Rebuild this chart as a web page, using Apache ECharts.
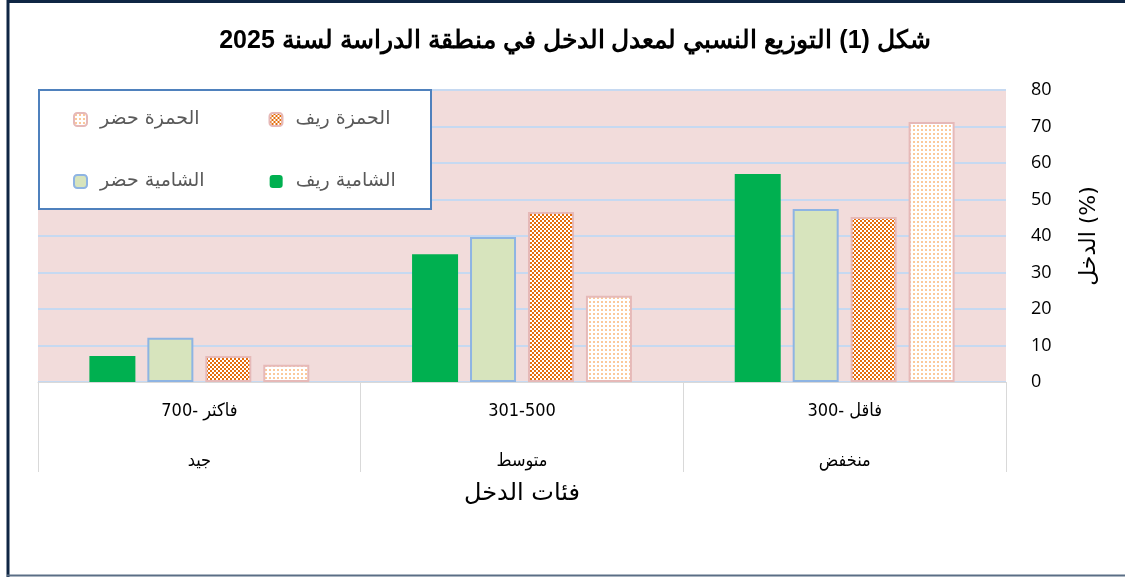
<!DOCTYPE html>
<html>
<head>
<meta charset="utf-8">
<script src="https://cdn.jsdelivr.net/npm/echarts@6/dist/echarts.min.js"></script>
<style>
  html, body { margin: 0; padding: 0; background: #fff; }
  #chart { width: 1125px; height: 577px; }
</style>
</head>
<body>
<div id="chart"></div>
<script>
const categories = ["منخفض", "متوسط", "جيد"];
const rangeNums = ["300-", "301-500", "700-"];
const rangeWords = ["فاقل", "", "فاكثر"];
const seriesNames = ["الشامية ريف", "الشامية حضر", "الحمزة ريف", "الحمزة حضر"];
const shamiyaRural = [57, 35, 7.1];
const shamiyaUrban = [47.4, 39.7, 12.1];
const hamzaRural = [45.2, 46.6, 7.1];
const hamzaUrban = [71.2, 23.6, 4.7];
const yTicks = { min: 0, max: 80, interval: 10 };

// small canvas patterns like the excel fills
function makePattern(kind) {
    const c = document.createElement("canvas");
    c.width = 4;
    c.height = 4;
    const ctx = c.getContext("2d");
    ctx.fillStyle = "#ffffff";
    ctx.fillRect(0, 0, 4, 4);
    if (kind === "check") {
        ctx.fillStyle = "#E46C0A";
        ctx.fillRect(0, 0, 2, 2);
        ctx.fillRect(2, 2, 2, 2);
    } else {
        ctx.fillStyle = "#FBC99A";
        ctx.fillRect(1, 1, 2, 2);
    }
    return { image: c, repeat: "repeat" };
}

// number and word drawn as separate rich pieces so the number stays on the left
function rangeLabel(i) {
    if (!rangeWords[i]) return "{a|" + rangeNums[i] + "}";
    return "{a|" + rangeNums[i] + "}{a| }{a|" + rangeWords[i] + "}";
}

var chart = echarts.init(document.getElementById("chart"));

const legendText = {
    color: "#595959",
    fontSize: 19,
    fontFamily: "DejaVu Sans",
    padding: [0, 0, 0, 8]
};

chart.setOption({
    animation: false,
    title: {
        text: "شكل (1) التوزيع النسبي لمعدل الدخل في منطقة الدراسة لسنة 2025",
        left: 570,
        textAlign: "center",
        top: 24,
        textStyle: { fontSize: 25, fontWeight: "bold", color: "#000", fontFamily: "Liberation Sans" }
    },
    graphic: [
        { type: "line", shape: { x1: 7, y1: 1.5, x2: 1125, y2: 1.5 }, style: { stroke: "#0F2644", lineWidth: 3 }, z: 20 },
        { type: "line", shape: { x1: 8, y1: 0, x2: 8, y2: 577 }, style: { stroke: "#0F2644", lineWidth: 3 }, z: 20 },
        { type: "line", shape: { x1: 7, y1: 575.5, x2: 1125, y2: 575.5 }, style: { stroke: "#5A6E85", lineWidth: 2 }, z: 20 },
        { type: "rect", shape: { x: 39, y: 90, width: 392, height: 119 }, style: { fill: "#fff", stroke: "#4F81BD", lineWidth: 2 }, z: 5 }
    ],
    legend: [
        {
            top: 105, left: 68, z: 10, itemGap: 69, itemWidth: 13, itemHeight: 13,
            data: ["الحمزة حضر", "الحمزة ريف"],
            textStyle: legendText
        },
        {
            top: 167, left: 68, z: 10, itemGap: 65, itemWidth: 13, itemHeight: 13,
            data: ["الشامية حضر", "الشامية ريف"],
            textStyle: legendText
        }
    ],
    grid: {
        left: 38, right: 119, top: 90, bottom: 195,
        show: true, backgroundColor: "#F2DCDB", borderWidth: 0
    },
    xAxis: {
        type: "category",
        inverse: true,
        data: categories,
        name: "فئات الدخل",
        nameLocation: "middle",
        nameGap: 100,
        nameTextStyle: { fontSize: 24, color: "#000", fontFamily: "DejaVu Sans" },
        axisLine: { lineStyle: { color: "#D9D9D9", width: 1 } },
        axisTick: { show: true, length: 90, interval: 0, lineStyle: { color: "#D9D9D9" } },
        axisLabel: {
            interval: 0,
            margin: 4,
            formatter: function (v, i) {
                return rangeLabel(i) + "\n{a|" + v + "}";
            },
            rich: {
                a: { fontSize: 18, color: "#000", lineHeight: 50, fontFamily: "DejaVu Sans Condensed" }
            }
        }
    },
    yAxis: {
        type: "value",
        position: "right",
        min: yTicks.min,
        max: yTicks.max,
        interval: yTicks.interval,
        name: "الدخل (%)",
        nameLocation: "middle",
        nameRotate: 90,
        nameGap: 72,
        nameTextStyle: { fontSize: 22, color: "#000", fontFamily: "DejaVu Sans" },
        axisLine: { show: false },
        axisTick: { show: false },
        axisLabel: { margin: 25, fontSize: 18, color: "#000", fontFamily: "Open Sans" },
        splitLine: { lineStyle: { color: "#C6D9F1", width: 2 } }
    },
    series: [
        {
            name: seriesNames[0], type: "bar", data: shamiyaRural,
            barWidth: 46, barGap: "26%",
            itemStyle: { color: "#00B050" }
        },
        {
            name: seriesNames[1], type: "bar", data: shamiyaUrban,
            barWidth: 46, barGap: "26%",
            itemStyle: { color: "#D7E4BD", borderColor: "#8EB4E3", borderWidth: 2 }
        },
        {
            name: seriesNames[2], type: "bar", data: hamzaRural,
            barWidth: 46, barGap: "26%",
            itemStyle: { color: makePattern("check"), borderColor: "#E6B9B8", borderWidth: 2 }
        },
        {
            name: seriesNames[3], type: "bar", data: hamzaUrban,
            barWidth: 46, barGap: "26%",
            itemStyle: { color: makePattern("dots"), borderColor: "#E6B9B8", borderWidth: 2 }
        }
    ]
});

window.addEventListener("resize", () => {
    if (chart) chart.resize();
});
</script>
</body>
</html>
